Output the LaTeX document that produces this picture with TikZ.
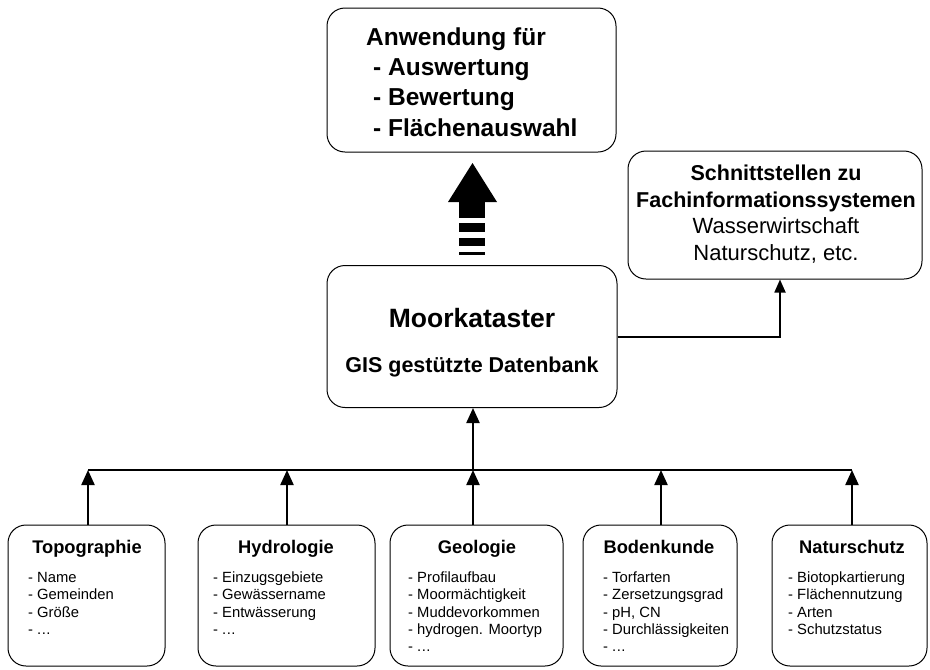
\documentclass[tikz,border=0pt]{standalone}
\usepackage{fontspec}
\setmainfont{Liberation Sans}
\usetikzlibrary{arrows.meta}
\tikzset{
  box/.style={draw, rounded corners=18pt, line width=1pt, inner sep=0pt},
  conn/.style={line width=2.2pt},
  arr/.style={conn, -{Triangle[width=13pt,length=15pt]}},
  thinarr/.style={line width=1.8pt, -{Triangle[width=11pt,length=13pt]}},
  bigtxt/.style={inner sep=0pt, font=\bfseries\fontsize{24.5}{29}\selectfont},
  midtxt/.style={inner sep=0pt, font=\bfseries\fontsize{21.5}{26}\selectfont},
  regtxt/.style={inner sep=0pt, font=\fontsize{22}{26}\selectfont},
  headtxt/.style={inner sep=0pt, font=\bfseries\fontsize{18.3}{22}\selectfont},
  item/.style={inner sep=0pt, anchor=base west, font=\fontsize{14.8}{17}\selectfont},
}
\newcommand{\mydots}{.\kern0.5pt.\kern0.5pt.}
\begin{document}
\begin{tikzpicture}[x=1pt,y=-1pt]
\useasboundingbox (0,0) rectangle (930,670);

% boxes
\node[box, minimum width=289pt, minimum height=144pt] (app) at (471.5,80) {};
\node[box, minimum width=294pt, minimum height=128pt] (sch) at (775,215) {};
\node[box, minimum width=290pt, minimum height=142pt] (moor) at (472,336.5) {};
\node[box, minimum width=157pt, minimum height=141pt] (topo) at (86.5,595.5) {};
\node[box, minimum width=177pt, minimum height=141pt] (hydro) at (286.5,595.5) {};
\node[box, minimum width=173pt, minimum height=141pt] (geo) at (476.5,595.5) {};
\node[box, minimum width=154pt, minimum height=141pt] (boden) at (660,595.5) {};
\node[box, minimum width=155pt, minimum height=141pt] (natur) at (849.5,595.5) {};

% texts top box
\node[bigtxt, anchor=base west] (app-t) at (366,45) {Anwendung für};
\node[bigtxt, anchor=base west] (app-1) at (373,75) {- Auswertung};
\node[bigtxt, anchor=base west] (app-2) at (373,105) {- Bewertung};
\node[bigtxt, anchor=base west] (app-3) at (373,136) {- Flächenauswahl};

% Schnittstellen
\node[midtxt, anchor=base] (sch-1) at (776,180) {Schnittstellen zu};
\node[midtxt, anchor=base] (sch-2) at (776,207) {Fachinformationssystemen};
\node[regtxt, anchor=base] (sch-3) at (776,233) {Wasserwirtschaft};
\node[regtxt, anchor=base] (sch-4) at (776,260) {Naturschutz, etc.};

% Moorkataster
\node[inner sep=0pt, anchor=base, font=\bfseries\fontsize{26.5}{30}\selectfont] (moor-t) at (472,327) {Moorkataster};
\node[midtxt, anchor=base] (moor-s) at (472,372) {GIS gestützte Datenbank};

% bottom titles
\node[headtxt, anchor=base] (topo-t) at (87,553) {Topographie};
\node[headtxt, anchor=base] (hydro-t) at (286,553) {Hydrologie};
\node[headtxt, anchor=base] (geo-t) at (477,553) {Geologie};
\node[headtxt, anchor=base] (boden-t) at (659,553) {Bodenkunde};
\node[headtxt, anchor=base] (natur-t) at (852,553) {Naturschutz};

% bottom items
\foreach \t [count=\i] in {- Name, - Gemeinden, - Größe, - \mydots}
  \node[item] (topo-\i) at (28,565.2+17.35*\i) {\t};
\foreach \t [count=\i] in {- Einzugsgebiete, - Gewässername, - Entwässerung, - \mydots}
  \node[item] (hydro-\i) at (213,565.2+17.35*\i) {\t};
\foreach \t [count=\i] in {- Profilaufbau, - Moormächtigkeit, - Muddevorkommen, - hydrogen. Moortyp, - \mydots}
  \node[item] (geo-\i) at (408,565.2+17.35*\i) {\t};
\foreach \t [count=\i] in {- Torfarten, - Zersetzungsgrad, {- pH, CN}, - Durchlässigkeiten, - \mydots}
  \node[item] (boden-\i) at (603,565.2+17.35*\i) {\t};
\foreach \t [count=\i] in {- Biotopkartierung, - Flächennutzung, - Arten, - Schutzstatus}
  \node[item] (natur-\i) at (788,565.2+17.35*\i) {\t};

% bus
\coordinate (b1) at (88,470);
\coordinate (b2) at (287,470);
\coordinate (b3) at (473,470);
\coordinate (b4) at (661,470);
\coordinate (b5) at (852,470);
\draw[conn] (b1) -- (b5);
\draw[arr] (b1 |- topo.north) -- (b1);
\draw[arr] (b2 |- hydro.north) -- (b2);
\draw[arr] (b3 |- geo.north) -- (b3);
\draw[arr] (b4 |- boden.north) -- (b4);
\draw[arr] (b5 |- natur.north) -- (b5);
\draw[arr] (b3) -- (b3 |- moor.south);

% to Schnittstellen
\coordinate (k) at (780,337);
\draw[thinarr] (moor.east |- k) -- (k) -- (k |- sch.south);

% big striped arrow
\fill (448,202) -- (472.5,163) -- (497,202) -- cycle;
\fill (459,201) rectangle (485,218);
\fill (459,223) rectangle (485,232);
\fill (459,238) rectangle (485,245.5);
\fill (459,251.5) rectangle (485,255);
\end{tikzpicture}
\end{document}
